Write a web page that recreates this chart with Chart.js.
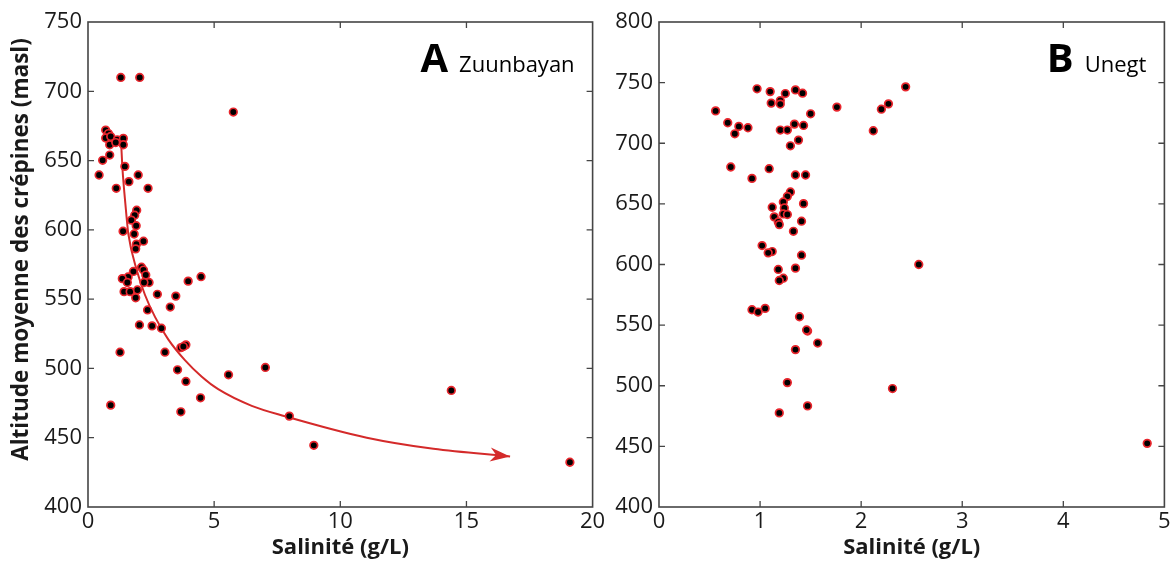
<!DOCTYPE html>
<html>
<head>
<meta charset="utf-8">
<script src="https://cdn.jsdelivr.net/npm/chart.js@4.4.0/dist/chart.umd.min.js"></script>
<style>
  html, body { margin: 0; padding: 0; background: #fff; }
  #wrap { position: relative; width: 1175px; height: 562px; overflow: hidden; }
  #boxA { position: absolute; left: 0; top: 0; width: 615px; height: 562px; }
  #boxB { position: absolute; left: 600px; top: 0; width: 575px; height: 562px; }
</style>
</head>
<body>
<div id="wrap">
  <div id="boxA"><canvas id="chartA"></canvas></div>
  <div id="boxB"><canvas id="chartB"></canvas></div>
</div>
<script>
// Zuunbayan (A)
const salA = [1.30, 2.05, 5.76, 0.70, 0.81, 0.70, 0.90, 1.16, 1.40, 1.40, 0.86, 1.10, 0.58, 0.86, 0.44,
  1.46, 1.99, 1.62, 1.12, 2.38, 1.93, 1.85, 1.72, 1.91, 1.39, 1.83, 1.92, 1.89, 2.20, 2.12,
  2.20, 1.80, 2.29, 1.59, 1.36, 1.56, 2.42, 2.22, 1.43, 1.67, 1.96, 1.89, 3.97, 4.48, 2.75,
  3.48, 3.26, 2.36, 2.04, 2.54, 2.91, 1.27, 3.05, 3.68, 3.88, 3.78, 3.55, 5.57, 7.03, 3.88,
  4.46, 0.90, 3.68, 7.98, 8.95, 14.4, 19.1];
const altA = [710, 710, 685, 672, 669.5, 666.3, 667.4, 665, 666, 661.4, 661.4, 663, 650.2, 654, 639.6,
  645.8, 639.6, 634.8, 630, 630, 614.2, 610.6, 607, 603, 599, 597, 589.7, 586.3, 591.8, 573,
  571, 570, 567.4, 566, 564.8, 562, 562, 562, 555.4, 555.4, 556.6, 551, 563, 566.2, 553.5,
  552.2, 544.3, 542.2, 531.4, 530.7, 529, 511.7, 511.7, 515, 517, 515.8, 499, 495.4, 500.7, 490.6,
  478.8, 473.5, 468.7, 465.6, 444.5, 484.1, 432.3];

// tendency arrow
const curveSal = [1.31, 1.36, 1.44, 1.53, 1.60, 1.93, 2.26, 2.66, 3.18, 3.84, 4.51, 5.16, 6.49, 7.81, 11.05, 13.69, 16.73];
const curveAlt = [664, 646, 627, 609, 597, 571, 553, 537, 521, 506, 494, 485, 473, 465.5, 450, 442, 436.5];

// Unegt (B)
const salB = [0.97, 1.10, 1.25, 1.35, 1.42, 2.44, 1.11, 1.20, 1.20, 0.56, 1.50, 1.76, 2.20, 2.27, 0.68,
  0.79, 0.88, 0.75, 1.34, 1.43, 1.20, 1.27, 2.12, 1.38, 1.30, 0.71, 1.09, 0.92, 1.35, 1.45,
  1.30, 1.27, 1.23, 1.43, 1.12, 1.24, 1.23, 1.27, 1.14, 1.18, 1.19, 1.41, 1.33, 1.02, 1.12,
  1.08, 1.41, 2.57, 1.18, 1.35, 1.23, 1.19, 0.92, 0.98, 1.05, 1.39, 1.47, 1.46, 1.57, 1.35,
  1.27, 2.31, 1.47, 1.19, 4.83];
const altB = [744.9, 742.6, 741, 744, 741.3, 746.5, 733.1, 735.2, 732.3, 726.7, 724.3, 729.8, 728.1, 732.5, 716.9,
  713.9, 712.8, 707.8, 715.8, 714.7, 710.9, 710.9, 710.3, 702.6, 697.9, 680.4, 679, 671, 673.8, 673.8,
  659.8, 656.2, 651.6, 650.2, 647.2, 646.6, 641.7, 641.2, 639.3, 635.1, 632.9, 635.7, 627.4, 615.6, 610.7,
  609.6, 607.7, 600, 595.9, 597, 588.7, 586.8, 562.7, 560.8, 563.8, 556.9, 545.1, 546, 535.2, 529.8,
  502.6, 497.7, 483.4, 477.6, 452.5];

const xTicksA = [0, 5, 10, 15, 20];
const yTicksA = [400, 450, 500, 550, 600, 650, 700, 750];
const xTicksB = [0, 1, 2, 3, 4, 5];
const yTicksB = [400, 450, 500, 550, 600, 650, 700, 750, 800];

const yTitleText = 'Altitude moyenne des crépines (masl)';

const pts = (xs, ys) => xs.map((x, i) => ({ x, y: ys[i] }));

Chart.defaults.font.family = '"Open Sans", sans-serif';
Chart.defaults.color = '#1a1a1a';

const inkRed = '#d42a2a';

// box around the plot + inward ticks on all four sides
const frameTicks = {
  id: 'frameTicks',
  beforeDatasetsDraw(chart) {
    const { ctx, chartArea: a, scales: { x, y } } = chart;
    ctx.save();
    ctx.strokeStyle = '#454545';
    ctx.lineWidth = 1.6;
    ctx.strokeRect(a.left, a.top, a.right - a.left, a.bottom - a.top);
    ctx.lineWidth = 1.3;
    ctx.beginPath();
    x.ticks.forEach(t => {
      const px = x.getPixelForValue(t.value);
      if (px <= a.left + 1 || px >= a.right - 1) return;
      ctx.moveTo(px, a.bottom); ctx.lineTo(px, a.bottom - 6);
      ctx.moveTo(px, a.top); ctx.lineTo(px, a.top + 6);
    });
    y.ticks.forEach(t => {
      const py = y.getPixelForValue(t.value);
      if (py <= a.top + 1 || py >= a.bottom - 1) return;
      ctx.moveTo(a.left, py); ctx.lineTo(a.left + 6, py);
      ctx.moveTo(a.right, py); ctx.lineTo(a.right - 6, py);
    });
    ctx.stroke();
    ctx.restore();
  }
};

// panel letter + site name, and (panel A only) the vertical axis title
const panelLabel = {
  id: 'panelLabel',
  afterDraw(chart, args, opts) {
    const { ctx, chartArea: a } = chart;
    ctx.save();
    ctx.fillStyle = '#000';
    ctx.textBaseline = 'alphabetic';
    ctx.textAlign = 'right';
    const xr = a.right - 18, yb = a.top + 50;
    ctx.font = '22px "Open Sans"';
    ctx.fillText(opts.name, xr, yb);
    const w = ctx.measureText(opts.name).width;
    ctx.font = 'bold 40px "Open Sans"';
    ctx.fillText(opts.letter, xr - w - 11, yb);
    if (opts.yTitle) {
      ctx.fillStyle = '#1a1a1a';
      ctx.font = 'bold 22.5px "Open Sans"';
      ctx.textAlign = 'center';
      ctx.textBaseline = 'middle';
      ctx.translate(22, (a.top + a.bottom) / 2 - 15);
      ctx.rotate(-Math.PI / 2);
      ctx.fillText(opts.yTitle, 0, 0);
    }
    ctx.restore();
  }
};

const arrowHead = {
  id: 'arrowHead',
  afterDatasetsDraw(chart) {
    const meta = chart.getDatasetMeta(1);
    const n = meta.data.length;
    const p = meta.data[n - 1], q = meta.data[n - 2];
    const ang = Math.atan2(p.y - q.y, p.x - q.x);
    const ctx = chart.ctx;
    ctx.save();
    ctx.translate(p.x, p.y);
    ctx.rotate(ang);
    ctx.fillStyle = inkRed;
    ctx.beginPath();
    ctx.moveTo(0, 0);
    ctx.lineTo(-20, -7);
    ctx.lineTo(-14, 0);
    ctx.lineTo(-20, 7);
    ctx.closePath();
    ctx.fill();
    ctx.restore();
  }
};

const dotStyle = {
  type: 'scatter',
  pointRadius: 3.8,
  pointHoverRadius: 3.8,
  pointBorderWidth: 1.7,
  pointBackgroundColor: '#000',
  pointBorderColor: '#e8262d'
};

function axes(xTicks, yTicks, yWidth) {
  return {
    x: {
      type: 'linear',
      min: xTicks[0], max: xTicks[xTicks.length - 1],
      afterBuildTicks: s => { s.ticks = xTicks.map(v => ({ value: v })); },
      afterFit: s => { s.height = 55; s.paddingLeft = 0; s.paddingRight = 0; },
      grid: { display: false, drawTicks: false },
      border: { display: false },
      ticks: { padding: 2, font: { size: 22 }, maxRotation: 0 },
      title: {
        display: true, text: 'Salinité (g/L)',
        font: { size: 22, weight: 'bold' }, color: '#1a1a1a',
        padding: { top: 0, bottom: 1 }
      }
    },
    y: {
      type: 'linear',
      min: yTicks[0], max: yTicks[yTicks.length - 1],
      afterBuildTicks: s => { s.ticks = yTicks.map(v => ({ value: v })); },
      afterFit: s => { s.width = yWidth; s.paddingTop = 0; s.paddingBottom = 0; },
      grid: { display: false, drawTicks: false },
      border: { display: false },
      ticks: { padding: 6, font: { size: 22 } }
    }
  };
}

new Chart(document.getElementById('chartA'), {
  type: 'scatter',
  data: {
    datasets: [
      Object.assign({ data: pts(salA, altA) }, dotStyle),
      {
        type: 'line',
        data: pts(curveSal, curveAlt),
        borderColor: inkRed,
        borderWidth: 2,
        pointRadius: 0,
        cubicInterpolationMode: 'monotone',
        fill: false
      }
    ]
  },
  options: {
    responsive: true,
    maintainAspectRatio: false,
    animation: false,
    events: [],
    layout: { padding: { left: 0, right: 22.4, top: 22, bottom: 0 } },
    plugins: {
      legend: { display: false },
      tooltip: { enabled: false },
      panelLabel: { letter: 'A', name: 'Zuunbayan', yTitle: yTitleText }
    },
    scales: axes(xTicksA, yTicksA, 88)
  },
  plugins: [frameTicks, arrowHead, panelLabel]
});

new Chart(document.getElementById('chartB'), {
  type: 'scatter',
  data: {
    datasets: [Object.assign({ data: pts(salB, altB) }, dotStyle)]
  },
  options: {
    responsive: true,
    maintainAspectRatio: false,
    animation: false,
    events: [],
    layout: { padding: { left: 0, right: 10.6, top: 22, bottom: 0 } },
    plugins: {
      legend: { display: false },
      tooltip: { enabled: false },
      panelLabel: { letter: 'B', name: 'Unegt' }
    },
    scales: axes(xTicksB, yTicksB, 59)
  },
  plugins: [frameTicks, panelLabel]
});
</script>
</body>
</html>
